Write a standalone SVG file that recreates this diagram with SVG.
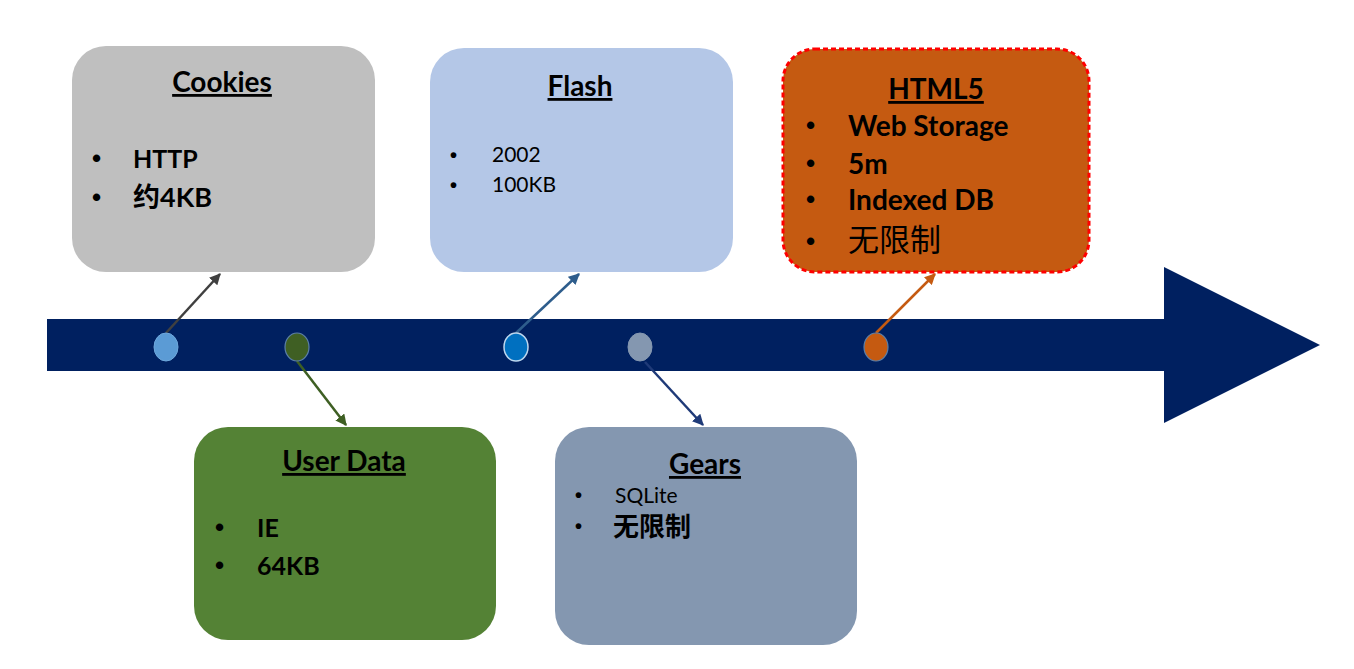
<svg xmlns="http://www.w3.org/2000/svg" width="1354" height="669" viewBox="0 0 1354 669">
<style>
.box{stroke:none}
.title{font-family:Lato,"Noto Sans CJK SC","Liberation Sans",sans-serif;font-weight:bold;font-size:28px;text-anchor:middle;text-decoration:underline;fill:#000}
.b{font-family:Lato,"Noto Sans CJK SC","Liberation Sans",sans-serif;font-weight:bold;font-size:25px;fill:#000}
.r{font-family:Lato,"Noto Sans CJK SC","Liberation Sans",sans-serif;font-weight:normal;font-size:21px;fill:#000}
.dot{font-family:"Liberation Sans",sans-serif;font-weight:bold;font-size:26px;fill:#000}
.conn{fill:none;stroke-width:2.5}
</style>
<defs>
<marker id="mGray" viewBox="0 0 10 10" refX="9" refY="5" markerWidth="4.5" markerHeight="4.5" orient="auto"><path d="M0,0 L10,5 L0,10 z" fill="#404040"/></marker>
<marker id="mFlash" viewBox="0 0 10 10" refX="9" refY="5" markerWidth="4.5" markerHeight="4.5" orient="auto"><path d="M0,0 L10,5 L0,10 z" fill="#2E5D8C"/></marker>
<marker id="mOrange" viewBox="0 0 10 10" refX="9" refY="5" markerWidth="4.5" markerHeight="4.5" orient="auto"><path d="M0,0 L10,5 L0,10 z" fill="#C55A11"/></marker>
<marker id="mGreen" viewBox="0 0 10 10" refX="9" refY="5" markerWidth="4.5" markerHeight="4.5" orient="auto"><path d="M0,0 L10,5 L0,10 z" fill="#3E5F23"/></marker>
<marker id="mNavy" viewBox="0 0 10 10" refX="9" refY="5" markerWidth="4.5" markerHeight="4.5" orient="auto"><path d="M0,0 L10,5 L0,10 z" fill="#1F3A78"/></marker>
</defs>
<rect width="1354" height="669" fill="#ffffff"/>

<g id="timeline">
<path d="M47,319 L1164,319 L1164,267 L1320,345 L1164,423 L1164,371 L47,371 Z" fill="#002060"/>
</g>

<g id="connectors">
<line class="conn" x1="166" y1="333" x2="220" y2="274" stroke="#404040" marker-end="url(#mGray)"/>
<line class="conn" x1="516" y1="333" x2="579" y2="274" stroke="#2E5D8C" marker-end="url(#mFlash)"/>
<line class="conn" x1="876" y1="333" x2="935" y2="274" stroke="#C55A11" marker-end="url(#mOrange)"/>
<line class="conn" x1="297" y1="361" x2="346" y2="425" stroke="#3E5F23" marker-end="url(#mGreen)"/>
<line class="conn" x1="645" y1="362" x2="703" y2="425" stroke="#1F3A78" marker-end="url(#mNavy)"/>
</g>

<g id="markers">
<ellipse cx="166" cy="347" rx="12" ry="14" fill="#5B9BD5" stroke="#6FA8DC" stroke-width="1"/>
<ellipse cx="297" cy="347" rx="12" ry="14" fill="#3F5F23" stroke="#5B7FA8" stroke-width="1.2"/>
<ellipse cx="516" cy="347" rx="12" ry="14" fill="#0070C0" stroke="#BDD7EE" stroke-width="1.5"/>
<ellipse cx="640" cy="347" rx="12" ry="14" fill="#8497B0" stroke="#8497B0" stroke-width="1"/>
<ellipse cx="876" cy="347" rx="12" ry="14" fill="#C55A11" stroke="#5B7FA8" stroke-width="1.2"/>
</g>

<g id="cookies">
<rect class="box" x="72" y="46" width="303" height="226" rx="34" fill="#BFBFBF"/>
<text class="title" x="222" y="92">Cookies</text>
<text class="dot" x="92" y="167">•</text>
<text class="b" x="133" y="168">HTTP</text>
<text class="dot" x="92" y="206">•</text>
<text class="b" x="133" y="207" style="font-size:27px">约4KB</text>
</g>

<g id="flash">
<rect class="box" x="430" y="48" width="303" height="224" rx="34" fill="#B4C7E7"/>
<text class="title" x="580" y="96">Flash</text>
<text class="dot" x="450" y="162" style="font-size:20px">•</text>
<text class="r" x="492" y="162">2002</text>
<text class="dot" x="450" y="192" style="font-size:20px">•</text>
<text class="r" x="492" y="192">100KB</text>
</g>

<g id="html5">
<rect x="783" y="49" width="306" height="223" rx="32" fill="#C55A11" stroke="#FF0000" stroke-width="3" stroke-dasharray="5,3"/>
<text class="title" x="936" y="99">HTML5</text>
<text class="dot" x="806" y="134">•</text>
<text class="b" x="848" y="136" style="font-size:28px">Web Storage</text>
<text class="dot" x="806" y="172">•</text>
<text class="b" x="848" y="174" style="font-size:28px">5m</text>
<text class="dot" x="806" y="208">•</text>
<text class="b" x="848" y="210" style="font-size:28px">Indexed DB</text>
<text class="dot" x="806" y="250">•</text>
<text class="b" x="848" y="251" style="font-weight:normal;font-size:31px">无限制</text>
</g>

<g id="userdata">
<rect class="box" x="194" y="427" width="302" height="213" rx="34" fill="#548235"/>
<text class="title" x="344" y="471">User Data</text>
<text class="dot" x="215" y="536">•</text>
<text class="b" x="257" y="537">IE</text>
<text class="dot" x="215" y="574">•</text>
<text class="b" x="257" y="575">64KB</text>
</g>

<g id="gears">
<rect class="box" x="555" y="427" width="302" height="218" rx="34" fill="#8497B0"/>
<text class="title" x="705" y="474">Gears</text>
<text class="dot" x="575" y="502" style="font-size:20px">•</text>
<text class="r" x="615" y="503">SQLite</text>
<text class="dot" x="575" y="533" style="font-size:20px">•</text>
<text class="b" x="613" y="536" style="font-size:26px">无限制</text>
</g>
</svg>
